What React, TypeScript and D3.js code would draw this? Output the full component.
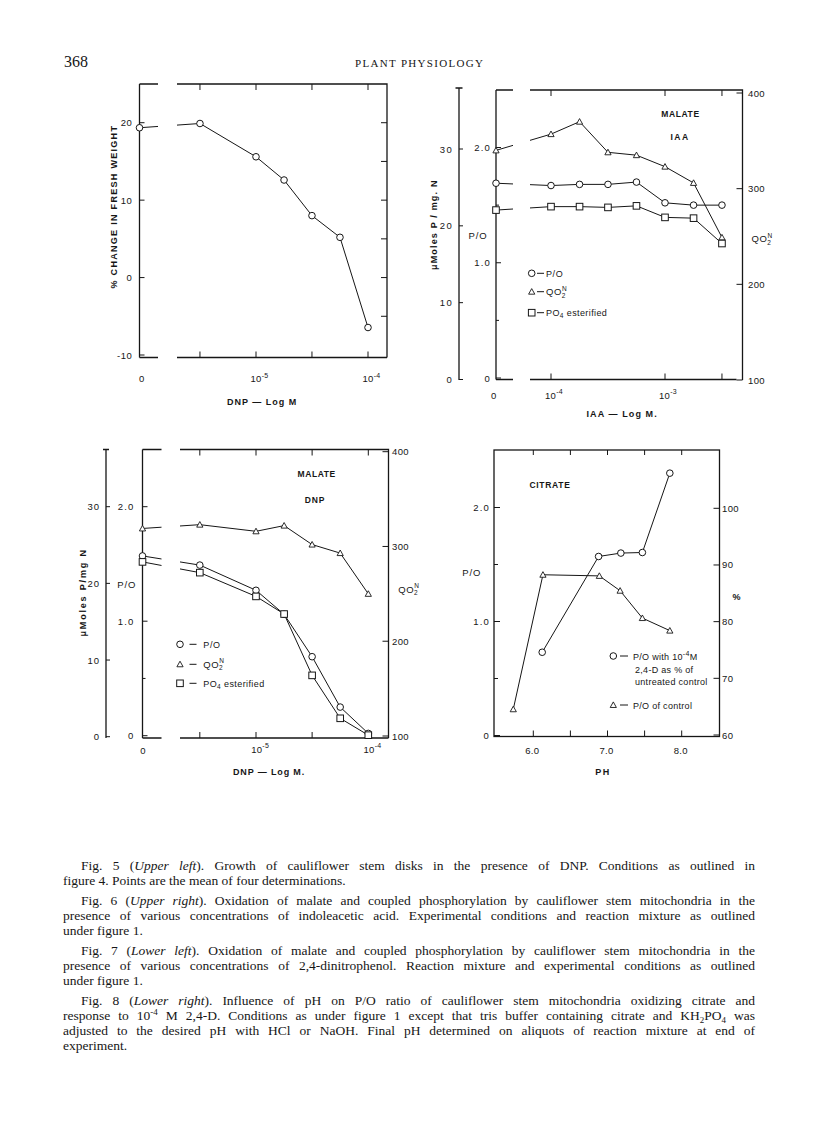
import React, { useLayoutEffect, useRef } from "react";
import * as d3 from "d3";

// ---------------- DATA ----------------
// Fig. 5 – growth vs DNP
const fig5Dnp = [0, 3.16e-6, 1e-5, 1.78e-5, 3.16e-5, 5.62e-5, 1e-4];
const fig5Growth = [19.35, 19.9, 15.6, 12.6, 8.0, 5.2, -6.45];
const fig5YTicks = [-10, 0, 10, 20];
const fig5YRightTicks = [-5, 0, 5, 10, 15, 20];
const fig5XTicks = [3.16e-6, 1e-5, 3.16e-5, 1e-4];
const fig5XLabelDecades = [1e-5, 1e-4];

// Fig. 6 – IAA
const fig6Iaa = [0, 1e-4, 1.78e-4, 3.16e-4, 5.62e-4, 1e-3, 1.78e-3, 3.16e-3];
const fig6PO = [1.69, 1.67, 1.68, 1.68, 1.7, 1.52, 1.5, 1.5];
const fig6QO2 = [340, 357, 370, 338, 335, 323, 306, 249];
const fig6PO4 = [22.05, 22.5, 22.5, 22.4, 22.6, 21.1, 21.0, 17.7];
const fig6XTicks = [1e-4, 1e-3, 3.16e-3];
const fig6XLabelDecades = [1e-4, 1e-3];

// Fig. 7 – DNP
const fig7Dnp = [0, 3.16e-6, 1e-5, 1.78e-5, 3.16e-5, 5.62e-5, 1e-4];
const fig7PO = [1.57, 1.49, 1.27, 1.06, 0.69, 0.25, 0.02];
const fig7QO2 = [319, 323, 316, 322, 302, 293, 250];
const fig7PO4 = [22.8, 21.4, 18.3, 16.0, 8.0, 2.4, 0.2];
const fig7XTicks = [3.16e-6, 1e-5, 3.16e-5, 1e-4];
const fig7XLabelDecades = [1e-5, 1e-4];

// shared axes for Fig. 6 / 7
const molTicks = [0, 10, 20, 30];
const poMajorTicks = [0, 1, 2];
const poMinorTicks = [0.5, 1.5];
const qo2Ticks = [100, 200, 300, 400];

// Fig. 8 – pH
const fig8PhTreated = [6.12, 6.88, 7.18, 7.47, 7.84];
const fig8PctTreated = [74.6, 91.5, 92.1, 92.2, 106.2];
const fig8PhControl = [5.73, 6.13, 6.89, 7.17, 7.47, 7.84];
const fig8POControl = [0.23, 1.41, 1.4, 1.27, 1.03, 0.92];
const fig8XTicks = [6, 6.5, 7, 7.5, 8];
const fig8XLabels = [6, 7, 8];
const fig8PctTicks = [60, 70, 80, 90, 100];

// captions: segments [text, kind] kind 1 = italic, 2 = superscript, 3 = subscript
const captions = [
  [
    { t: [["Fig. 5 ("], ["Upper left", 1], ["). Growth of cauliflower stem disks in the presence of DNP. Conditions as outlined in"]], j: 1, ind: 1 },
    { t: [["figure 4. Points are the mean of four determinations."]], j: 0, ind: 0 },
  ],
  [
    { t: [["Fig. 6 ("], ["Upper right", 1], ["). Oxidation of malate and coupled phosphorylation by cauliflower stem mitochondria in the"]], j: 1, ind: 1 },
    { t: [["presence of various concentrations of indoleacetic acid. Experimental conditions and reaction mixture as outlined"]], j: 1, ind: 0 },
    { t: [["under figure 1."]], j: 0, ind: 0 },
  ],
  [
    { t: [["Fig. 7 ("], ["Lower left", 1], ["). Oxidation of malate and coupled phosphorylation by cauliflower stem mitochondria in the"]], j: 1, ind: 1 },
    { t: [["presence of various concentrations of 2,4-dinitrophenol. Reaction mixture and experimental conditions as outlined"]], j: 1, ind: 0 },
    { t: [["under figure 1."]], j: 0, ind: 0 },
  ],
  [
    { t: [["Fig. 8 ("], ["Lower right", 1], ["). Influence of pH on P/O ratio of cauliflower stem mitochondria oxidizing citrate and"]], j: 1, ind: 1 },
    { t: [["response to 10"], ["-4", 2], [" M 2,4-D. Conditions as under figure 1 except that tris buffer containing citrate and KH"], ["2", 3], ["PO"], ["4", 3], [" was"]], j: 1, ind: 0 },
    { t: [["adjusted to the desired pH with HCl or NaOH. Final pH determined on aliquots of reaction mixture at end of"]], j: 1, ind: 0 },
    { t: [["experiment."]], j: 0, ind: 0 },
  ],
];

// ---------------- STYLE ----------------
const INK = "#161616";
const SANS = "'Liberation Sans', Arial, sans-serif";
const SERIF = "'Liberation Serif', 'Times New Roman', serif";
const AX = 1.3;

type Pt = [number, number];

function Marker({ shape, x, y }: { shape: string; x: number; y: number }) {
  if (shape === "circle")
    return <circle cx={x} cy={y} r={3.3} fill="#fff" stroke={INK} strokeWidth={1} />;
  if (shape === "square")
    return <rect x={x - 3.3} y={y - 3.3} width={6.6} height={6.6} fill="#fff" stroke={INK} strokeWidth={1} />;
  const s = 3.1;
  return (
    <path
      d={`M${x},${y - s}L${x + s},${y + s * 0.8}L${x - s},${y + s * 0.8}Z`}
      fill="#fff"
      stroke={INK}
      strokeWidth={0.9}
    />
  );
}

function brokenPath(pts: Pt[], gA: number, gB: number) {
  const [p0, p1, ...rest] = pts;
  const lerp = (xx: number): Pt => [xx, p0[1] + ((p1[1] - p0[1]) * (xx - p0[0])) / (p1[0] - p0[0])];
  const line = d3.line();
  return (line([p0, lerp(gA)]) || "") + (line([lerp(gB), p1, ...rest]) || "");
}

function Series({ pts, shape, gap }: { pts: Pt[]; shape: string; gap?: [number, number] }) {
  const d = gap ? brokenPath(pts, gap[0], gap[1]) : d3.line()(pts) || "";
  return (
    <g>
      <path d={d} fill="none" stroke={INK} strokeWidth={1} />
      {pts.map((p, i) => (
        <Marker key={i} shape={shape} x={p[0]} y={p[1]} />
      ))}
    </g>
  );
}

function Lbl(props: any) {
  const { children, size = 9.5, anchor = "start", weight = "normal", ls = 0.6, ...rest } = props;
  return (
    <text
      fontFamily={SANS}
      fontSize={size}
      fill={INK}
      textAnchor={anchor}
      fontWeight={weight}
      letterSpacing={ls}
      {...rest}
    >
      {children}
    </text>
  );
}

function PowLabel({ x, y, exp }: { x: number; y: number; exp: number }) {
  return (
    <Lbl x={x} y={y} size={9.5} ls={0.3}>
      10
      <tspan fontSize={7} dy={-4.5}>
        {`-${exp}`}
      </tspan>
    </Lbl>
  );
}

function QO2N({ x, y }: { x: number; y: number }) {
  return (
    <Lbl x={x} y={y} size={9.5} ls={0.5}>
      QO
      <tspan fontSize={6.5} dy={2.5}>
        2
      </tspan>
      <tspan fontSize={6.5} dx={-4} dy={-7}>
        N
      </tspan>
    </Lbl>
  );
}

function PO4({ x, y }: { x: number; y: number }) {
  return (
    <Lbl x={x} y={y} size={9} ls={0.4}>
      PO
      <tspan fontSize={6.5} dy={2}>
        4
      </tspan>
      <tspan dy={-2}> esterified</tspan>
    </Lbl>
  );
}

const poFmt = (v: number) => (v === 0 ? "0" : v.toFixed(1));
const expOf = (v: number) => Math.round(-Math.log10(v));

// ---------------- FIG 5 ----------------
function Fig5() {
  const L = 139.5, gA = 158, gB = 177, R = 387, T = 84, B = 357.5;
  const x = d3.scaleLog().domain([1e-5, 1e-4]).range([256, 368]);
  const y = d3.scaleLinear().domain([-10, 25]).range([355, 84]);
  const px = (c: number) => (c === 0 ? L : x(c));
  const pts: Pt[] = fig5Dnp.map((c, i) => [px(c), y(fig5Growth[i])]);
  return (
    <g>
      <path
        d={`M${L},${T}V${B}M${L},${T}H${gA}M${gB},${T}H${R}V${B}M${L},${B}H${gA}M${gB},${B}H${R}`}
        fill="none"
        stroke={INK}
        strokeWidth={AX}
      />
      {fig5YTicks.map((v) => (
        <g key={v}>
          <path d={`M${L},${y(v)}h5`} stroke={INK} strokeWidth={1} />
          <Lbl x={L - 7} y={y(v) + 3.5} anchor="end">
            {v}
          </Lbl>
        </g>
      ))}
      {fig5YRightTicks.map((v) => (
        <path key={v} d={`M${R},${y(v)}h-6`} stroke={INK} strokeWidth={1} />
      ))}
      {fig5XTicks.map((v) => (
        <path key={v} d={`M${x(v)},${T}v6M${x(v)},${B}v-6`} stroke={INK} strokeWidth={1} />
      ))}
      <Lbl x={142} y={382} anchor="middle">
        0
      </Lbl>
      {fig5XLabelDecades.map((v) => (
        <PowLabel key={v} x={x(v) - 5.5} y={382} exp={expOf(v)} />
      ))}
      <Lbl x={262} y={405} anchor="middle" size={9} weight="bold" ls={0.8} textLength={70} lengthAdjust="spacing">
        DNP — Log M
      </Lbl>
      <Lbl
        transform="translate(117,207) rotate(-90)"
        anchor="middle"
        size={9}
        weight="bold"
        textLength={163}
        lengthAdjust="spacing"
      >
        % CHANGE IN FRESH WEIGHT
      </Lbl>
      <Series pts={pts} shape="circle" gap={[gA, gB]} />
    </g>
  );
}

// ---------------- FIG 6 ----------------
function Fig6() {
  const FL = 459, L = 496, gA = 513, gB = 530, R = 742.5, T = 90, B = 379.5;
  const x = d3.scaleLog().domain([1e-4, 1e-3]).range([551, 665]);
  const yPO = d3.scaleLinear().domain([0, 2]).range([378, 147.5]);
  const yMol = d3.scaleLinear().domain([0, 30]).range([379.5, 149]);
  const yQ = d3.scaleLinear().domain([100, 400]).range([380, 93]);
  const px = (c: number) => (c === 0 ? L : x(c));
  const ptsPO: Pt[] = fig6Iaa.map((c, i) => [px(c), yPO(fig6PO[i])]);
  const ptsQ: Pt[] = fig6Iaa.map((c, i) => [px(c), yQ(fig6QO2[i])]);
  const ptsM: Pt[] = fig6Iaa.map((c, i) => [px(c), yMol(fig6PO4[i])]);
  const legend = [
    { shape: "circle", y: 273.3, label: <Lbl x={546} y={276.8} size={9}>P/O</Lbl> },
    { shape: "triangle", y: 291.7, label: <QO2N x={546} y={295} /> },
    { shape: "square", y: 312.7, label: <PO4 x={546} y={316} /> },
  ];
  return (
    <g>
      <path d={`M${FL},88V380M${FL - 3.5},88H${FL + 3.5}`} fill="none" stroke={INK} strokeWidth={AX} />
      {molTicks.map((v) => (
        <g key={v}>
          <path d={`M${FL},${yMol(v)}h4`} stroke={INK} strokeWidth={1} />
          <Lbl x={FL - 6} y={yMol(v) + 3.5} anchor="end" ls={1.3}>
            {v}
          </Lbl>
        </g>
      ))}
      <path
        d={`M${L},${T}V${B}M${L},${T}H${gA}M${gB},${T}H${R}V${B + 0.5}M${L},${B}H${gA}M${gB},${B}H${R - 6}`}
        fill="none"
        stroke={INK}
        strokeWidth={AX}
      />
      {poMajorTicks.map((v) => (
        <g key={v}>
          <path d={`M${L},${yPO(v)}h5`} stroke={INK} strokeWidth={1} />
          <Lbl x={L - 5} y={yPO(v) + 3.5} anchor="end" ls={1.2}>
            {poFmt(v)}
          </Lbl>
        </g>
      ))}
      {poMinorTicks.map((v) => (
        <path key={v} d={`M${L},${yPO(v)}h3`} stroke={INK} strokeWidth={1} />
      ))}
      {qo2Ticks.map((v) => (
        <g key={v}>
          <path d={`M${R},${yQ(v)}h-6`} stroke={INK} strokeWidth={1} />
          <Lbl x={R + 5.5} y={yQ(v) + 3.5} ls={0.4}>
            {v}
          </Lbl>
        </g>
      ))}
      {fig6XTicks.map((v) => (
        <path key={v} d={`M${x(v)},${T}v6M${x(v)},${B}v-6`} stroke={INK} strokeWidth={1} />
      ))}
      <Lbl x={494} y={398.5} anchor="middle">
        0
      </Lbl>
      {fig6XLabelDecades.map((v) => (
        <PowLabel key={v} x={x(v) - 6} y={398.5} exp={expOf(v)} />
      ))}
      <Lbl x={622} y={417} anchor="middle" size={9} weight="bold" ls={0.8} textLength={71} lengthAdjust="spacing">
        IAA — Log M.
      </Lbl>
      <Lbl
        transform="translate(436.5,225) rotate(-90)"
        anchor="middle"
        size={9}
        weight="bold"
        textLength={90}
        lengthAdjust="spacing"
      >
        μMoles P / mg. N
      </Lbl>
      <Lbl x={680.5} y={117} anchor="middle" size={8.5} weight="bold" ls={0.6}>
        MALATE
      </Lbl>
      <Lbl x={680} y={139.5} anchor="middle" size={8.5} weight="bold" ls={1.5}>
        IAA
      </Lbl>
      <Lbl x={478} y={239} anchor="middle" size={9.5} ls={0.8}>
        P/O
      </Lbl>
      <QO2N x={751.5} y={242} />
      {legend.map((l, i) => (
        <g key={i}>
          <Marker shape={l.shape} x={531.7} y={l.y} />
          <path d={`M537,${l.y}h7`} stroke={INK} strokeWidth={1} />
          {l.label}
        </g>
      ))}
      <Series pts={ptsQ} shape="triangle" gap={[gA, gB]} />
      <Series pts={ptsPO} shape="circle" gap={[gA, gB]} />
      <Series pts={ptsM} shape="square" gap={[gA, gB]} />
    </g>
  );
}

// ---------------- FIG 7 ----------------
function Fig7() {
  const FL = 106, L = 142.5, gA = 161.5, gB = 180, R = 388.5, T = 449.5, B = 738;
  const x = d3.scaleLog().domain([1e-5, 1e-4]).range([256, 368.3]);
  const yPO = d3.scaleLinear().domain([0, 2]).range([735.7, 506.7]);
  const yMol = d3.scaleLinear().domain([0, 30]).range([736.7, 506.7]);
  const yQ = d3.scaleLinear().domain([100, 400]).range([736, 451.7]);
  const px = (c: number) => (c === 0 ? L : x(c));
  const ptsPO: Pt[] = fig7Dnp.map((c, i) => [px(c), yPO(fig7PO[i])]);
  const ptsQ: Pt[] = fig7Dnp.map((c, i) => [px(c), yQ(fig7QO2[i])]);
  const ptsM: Pt[] = fig7Dnp.map((c, i) => [px(c), yMol(fig7PO4[i])]);
  const legend = [
    { shape: "circle", y: 644.3, label: <Lbl x={203.3} y={647.8} size={9}>P/O</Lbl> },
    { shape: "triangle", y: 664.3, label: <QO2N x={203.3} y={667.6} /> },
    { shape: "square", y: 683.3, label: <PO4 x={203.3} y={686.6} /> },
  ];
  return (
    <g>
      <path d={`M${FL},${T}V738M${FL - 3},${T}H${FL + 3}`} fill="none" stroke={INK} strokeWidth={AX} />
      {molTicks.map((v) => (
        <g key={v}>
          <path d={`M${FL},${yMol(v)}h4`} stroke={INK} strokeWidth={1} />
          <Lbl x={FL - 6} y={yMol(v) + 3.5} anchor="end" ls={1}>
            {v}
          </Lbl>
        </g>
      ))}
      <path
        d={`M${L},${T}V${B}M${L},${T}H${gA}M${gB},${T}H${R}V${B}M${L},${B}H${gA}M${gB},${B}H${R}`}
        fill="none"
        stroke={INK}
        strokeWidth={AX}
      />
      {poMajorTicks.map((v) => (
        <g key={v}>
          <path d={`M${L},${yPO(v)}h5`} stroke={INK} strokeWidth={1} />
          <Lbl x={L - 8} y={yPO(v) + 3.5} anchor="end" ls={1.2}>
            {poFmt(v)}
          </Lbl>
        </g>
      ))}
      {poMinorTicks.map((v) => (
        <path key={v} d={`M${L},${yPO(v)}h3`} stroke={INK} strokeWidth={1} />
      ))}
      {qo2Ticks.map((v) => (
        <g key={v}>
          <path d={`M${R},${yQ(v)}h-6`} stroke={INK} strokeWidth={1} />
          <Lbl x={R + 3.5} y={yQ(v) + 3.5} ls={0.4}>
            {v}
          </Lbl>
        </g>
      ))}
      {fig7XTicks.map((v) => (
        <path key={v} d={`M${x(v)},${T}v6M${x(v)},${B}v-6`} stroke={INK} strokeWidth={1} />
      ))}
      <Lbl x={143.3} y={753.5} anchor="middle">
        0
      </Lbl>
      {fig7XLabelDecades.map((v) => (
        <PowLabel key={v} x={x(v) - 4.8} y={752.5} exp={expOf(v)} />
      ))}
      <Lbl x={269} y={775} anchor="middle" size={9} weight="bold" ls={0.8} textLength={72} lengthAdjust="spacing">
        DNP — Log M.
      </Lbl>
      <Lbl
        transform="translate(86,593) rotate(-90)"
        anchor="middle"
        size={9}
        weight="bold"
        textLength={87}
        lengthAdjust="spacing"
      >
        μMoles P/mg N
      </Lbl>
      <Lbl x={316.7} y={477} anchor="middle" size={8.5} weight="bold" ls={0.6}>
        MALATE
      </Lbl>
      <Lbl x={315} y={503} anchor="middle" size={8.5} weight="bold" ls={0.8}>
        DNP
      </Lbl>
      <Lbl x={126.7} y={588} anchor="middle" size={9.5} ls={0.8}>
        P/O
      </Lbl>
      <QO2N x={398.3} y={592.5} />
      {legend.map((l, i) => (
        <g key={i}>
          <Marker shape={l.shape} x={180} y={l.y} />
          <path d={`M189.5,${l.y}h7`} stroke={INK} strokeWidth={1} />
          {l.label}
        </g>
      ))}
      <Series pts={ptsQ} shape="triangle" gap={[gA, gB]} />
      <Series pts={ptsPO} shape="circle" gap={[gA, gB]} />
      <Series pts={ptsM} shape="square" gap={[gA, gB]} />
    </g>
  );
}

// ---------------- FIG 8 ----------------
function Fig8() {
  const L = 494, R = 719.5, T = 450, B = 736.5;
  const x = d3.scaleLinear().domain([6, 8]).range([533.3, 681.7]);
  const yPO = d3.scaleLinear().domain([0, 2]).range([735.5, 507.5]);
  const yPct = d3.scaleLinear().domain([60, 100]).range([735, 508.3]);
  const ptsC: Pt[] = fig8PhControl.map((p, i) => [x(p), yPO(fig8POControl[i])]);
  const ptsT: Pt[] = fig8PhTreated.map((p, i) => [x(p), yPct(fig8PctTreated[i])]);
  return (
    <g>
      <rect x={L} y={T} width={R - L} height={B - T} fill="none" stroke={INK} strokeWidth={AX} />
      {poMajorTicks.map((v) => (
        <g key={v}>
          <path d={`M${L},${yPO(v)}h6`} stroke={INK} strokeWidth={1} />
          <Lbl x={L - 4} y={yPO(v) + 3.5} anchor="end" ls={1.2}>
            {poFmt(v)}
          </Lbl>
        </g>
      ))}
      {poMinorTicks.map((v) => (
        <path key={v} d={`M${L},${yPO(v)}h4`} stroke={INK} strokeWidth={1} />
      ))}
      {fig8PctTicks.map((v) => (
        <g key={v}>
          <path d={`M${R},${yPct(v)}h-6`} stroke={INK} strokeWidth={1} />
          <Lbl x={R + 2.5} y={yPct(v) + 3.5} ls={0.4}>
            {v}
          </Lbl>
        </g>
      ))}
      {fig8XTicks.map((v) => (
        <path key={v} d={`M${x(v)},${T}v5M${x(v)},${B}v-6`} stroke={INK} strokeWidth={1} />
      ))}
      {fig8XLabels.map((v) => (
        <Lbl key={v} x={x(v) - 1} y={753.5} anchor="middle" ls={0.3}>
          {v.toFixed(1)}
        </Lbl>
      ))}
      <Lbl x={603} y={775} anchor="middle" size={9} weight="bold" ls={1.5}>
        PH
      </Lbl>
      <Lbl x={550} y={488} anchor="middle" size={8.5} weight="bold" ls={0.7}>
        CITRATE
      </Lbl>
      <Lbl x={471.7} y={576} anchor="middle" size={9.5} ls={0.8}>
        P/O
      </Lbl>
      <Lbl x={736.7} y={600} anchor="middle" size={9} weight="bold">
        %
      </Lbl>
      <Marker shape="circle" x={613.3} y={656} />
      <path d="M620,656h8" stroke={INK} strokeWidth={1} />
      <Lbl x={633} y={659.5} size={9} ls={0.3}>
        P/O with 10
        <tspan fontSize={7} dy={-4}>
          -4
        </tspan>
        <tspan dy={4}>M</tspan>
      </Lbl>
      <Lbl x={635} y={673} size={9} ls={0.3}>
        2,4-D as % of
      </Lbl>
      <Lbl x={635} y={685} size={9} ls={0.3}>
        untreated control
      </Lbl>
      <Marker shape="triangle" x={613.3} y={705} />
      <path d="M620,705h8" stroke={INK} strokeWidth={1} />
      <Lbl x={633} y={708.5} size={9} ls={0.3}>
        P/O of control
      </Lbl>
      <Series pts={ptsC} shape="triangle" />
      <Series pts={ptsT} shape="circle" />
    </g>
  );
}

// ---------------- CAPTIONS ----------------
const CAP_SIZE = 13.5;

function CaptionLine({ line, x, y, width }: { line: any; x: number; y: number; width: number }) {
  const ref = useRef<SVGTextElement>(null);
  useLayoutEffect(() => {
    const el = ref.current;
    if (!el || !line.j) return;
    el.style.wordSpacing = "0px";
    const nat = el.getComputedTextLength();
    const n = (el.textContent || "").split(" ").length - 1;
    if (width > nat && n > 0) {
      el.style.wordSpacing = `${(width - nat) / n}px`;
    } else if (width < nat) {
      el.setAttribute("textLength", String(width));
      el.setAttribute("lengthAdjust", "spacingAndGlyphs");
    }
  }, [line, width]);
  return (
    <text ref={ref} x={x} y={y} fontFamily={SERIF} fontSize={CAP_SIZE} fill={INK}>
      {line.t.map((seg: any, si: number) => {
        const [s, kind] = seg;
        if (kind === 1)
          return (
            <tspan key={si} fontStyle="italic">
              {s}
            </tspan>
          );
        if (kind === 2)
          return (
            <tspan key={si} fontSize={9} dy={-5}>
              {s}
            </tspan>
          );
        if (kind === 3)
          return (
            <tspan key={si} fontSize={9} dy={3}>
              {s}
            </tspan>
          );
        const prev = si > 0 ? line.t[si - 1][1] : 0;
        const dy = prev === 2 ? 5 : prev === 3 ? -3 : 0;
        return (
          <tspan key={si} dy={dy || undefined}>
            {s}
          </tspan>
        );
      })}
    </text>
  );
}

function Captions() {
  const left = 63, indent = 81, right = 755;
  const lineH = 15, paraGap = 20;
  let yy = 870;
  const out: any[] = [];
  captions.forEach((para, pi) => {
    para.forEach((line, li) => {
      const x0 = line.ind ? indent : left;
      out.push(<CaptionLine key={`${pi}-${li}`} line={line} x={x0} y={yy} width={right - x0} />);
      yy += li === para.length - 1 ? paraGap : lineH;
    });
  });
  return <g>{out}</g>;
}

export default function App() {
  return (
    <svg
      width={816}
      height={1121}
      viewBox="0 0 816 1121"
      style={{ position: "absolute", left: 0, top: 0, background: "#fff" }}
    >
      <rect width={816} height={1121} fill="#fff" />
      <text x={64} y={67} fontFamily={SERIF} fontSize={16} fill={INK}>
        368
      </text>
      <text x={355} y={67} fontFamily={SERIF} fontSize={11} fill={INK} textLength={128} lengthAdjust="spacing">
        PLANT PHYSIOLOGY
      </text>
      <Fig5 />
      <Fig6 />
      <Fig7 />
      <Fig8 />
      <Captions />
    </svg>
  );
}
